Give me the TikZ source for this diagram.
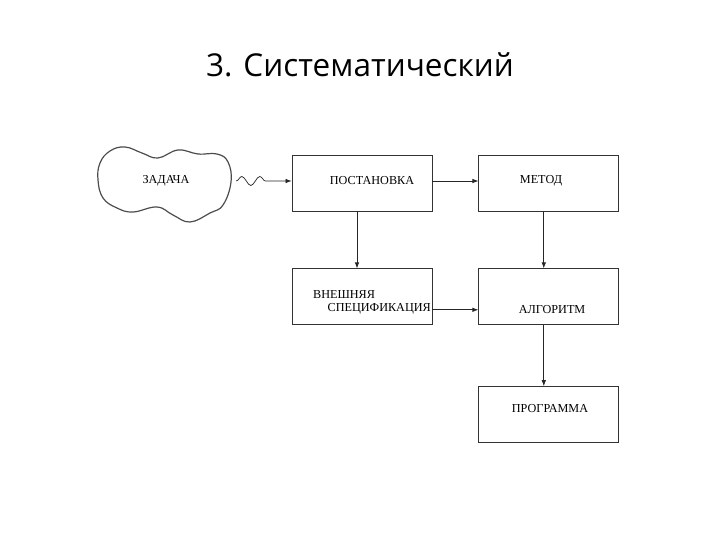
\documentclass[tikz,border=0pt]{standalone}
\usepackage{fontspec}
\setmainfont{Liberation Serif}
\newfontfamily\titlefont{Open Sans}
\usetikzlibrary{arrows.meta, positioning, decorations.pathmorphing}

\begin{document}
\begin{tikzpicture}[
    x=1pt, y=-1pt,
    box/.style={rectangle, draw=black!80, line width=0.8pt, minimum width=140pt, minimum height=56pt, inner sep=0pt},
    txt/.style={font=\fontsize{12.2}{14}\selectfont, inner sep=0pt, align=left},
    arrow/.style={-{Latex[length=6pt,width=4.5pt]}, line width=0.7pt, draw=black!85},
    node distance=57pt and 46pt
]
\useasboundingbox (0,0) rectangle (720,540);

% Title
\node[font=\titlefont\fontsize{31.5}{36}\selectfont, anchor=base] (title) at (360,77) {3. Систематический};

% Cloud
\draw[line width=1.2pt, draw=black!70] plot[smooth cycle, tension=0.7] coordinates {
    (100,163) (110,151) (125,147) (142,153) (158,158) (178,150) (198,154)
    (217,154) (228,162) (231,182) (223,205) (210,213) (190,222) (173,215)
    (157,207) (133,212) (117,208) (103,198) (98,180)};
\node[txt, minimum width=140pt, align=center] (task) at (166,181) {ЗАДАЧА};

% Nodes
\node[box] (post) at (362,183) {};
\node[box, right=of post] (method) {};
\node[box, below=of post] (spec) {};
\node[box, below=of method] (algo) {};
\node[box, below=61pt of algo] (prog) {};

% Labels
\node[txt] (postlbl) at (372,181) {ПОСТАНОВКА};
\node[txt] (methodlbl) at (541,181) {МЕТОД};
\node[txt, anchor=west] (speclbl1) at (313,295) {ВНЕШНЯЯ};
\node[txt, anchor=east] (speclbl2) at (431,309) {СПЕЦИФИКАЦИЯ};
\node[txt] (algolbl) at (552,310) {АЛГОРИТМ};
\node[txt] (proglbl) at (550,409) {ПРОГРАММА};

% Arrows
\draw[arrow, decorate, decoration={snake, amplitude=4.5pt, segment length=18pt, post length=20pt}]
    (task.east) -- ([yshift=2pt]post.west);
\draw[arrow] ([yshift=2pt]post.east) -- ([yshift=2pt]post.east -| method.west);
\draw[arrow] ([xshift=-5pt]post.south) -- ([xshift=-5pt]spec.north);
\draw[arrow] ([xshift=-5pt]method.south) -- ([xshift=-5pt]algo.north);
\draw[arrow] ([yshift=-13pt]spec.east) -- ([yshift=-13pt]algo.west);
\draw[arrow] ([xshift=-5pt]algo.south) -- ([xshift=-5pt]prog.north);

\end{tikzpicture}
\end{document}
